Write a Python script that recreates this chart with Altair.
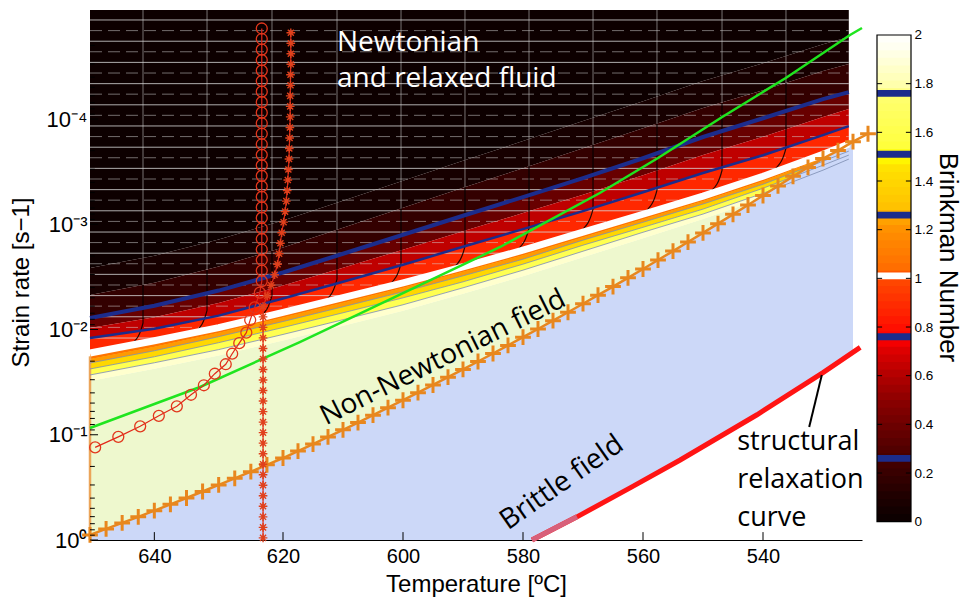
import altair as alt
import pandas as pd

# ---------------- values ----------------
# temperatures [deg C] at which the Brinkman-number level curves were read
T_FIELD = [650, 640, 630, 620, 610, 600, 590, 580, 570, 560, 550, 540, 530, 525.7]
# log10(strain rate) of Brinkman-number level curves
LOG_BR_003 = [-2.585, -2.701, -2.854, -3.036, -3.224, -3.413, -3.603, -3.790, -3.980, -4.169, -4.361, -4.530, -4.711, -4.779]
LOG_BR_010 = [-2.328, -2.444, -2.598, -2.780, -2.967, -3.157, -3.347, -3.533, -3.723, -3.912, -4.104, -4.273, -4.455, -4.522]
LOG_BR_026 = [-2.110, -2.226, -2.370, -2.542, -2.720, -2.900, -3.081, -3.258, -3.438, -3.627, -3.829, -4.007, -4.189, -4.256]
LOG_BR_050 = [-2.015, -2.116, -2.251, -2.419, -2.587, -2.758, -2.933, -3.106, -3.281, -3.466, -3.658, -3.831, -4.018, -4.095]
LOG_BR_076 = [-1.920, -2.007, -2.132, -2.295, -2.454, -2.615, -2.786, -2.954, -3.125, -3.304, -3.487, -3.656, -3.847, -3.933]
LOG_BR_100 = [-1.777, -1.893, -2.018, -2.162, -2.302, -2.444, -2.596, -2.754, -2.925, -3.095, -3.268, -3.456, -3.666, -3.762]
LOG_BR_115 = [-1.720, -1.836, -1.970, -2.114, -2.254, -2.396, -2.548, -2.706, -2.877, -3.047, -3.220, -3.408, -3.628, -3.724]
LOG_BR_130 = [-1.682, -1.798, -1.932, -2.076, -2.216, -2.358, -2.510, -2.668, -2.849, -3.019, -3.192, -3.380, -3.599, -3.695]
LOG_BR_150 = [-1.625, -1.741, -1.875, -2.019, -2.159, -2.301, -2.453, -2.621, -2.801, -2.971, -3.144, -3.342, -3.561, -3.657]
LOG_BR_175 = [-1.568, -1.684, -1.809, -1.953, -2.093, -2.235, -2.396, -2.564, -2.744, -2.924, -3.097, -3.294, -3.514, -3.619]
LOG_BR_200 = [-1.511, -1.627, -1.752, -1.896, -2.036, -2.178, -2.339, -2.507, -2.687, -2.867, -3.049, -3.247, -3.476, -3.581]
# Brinkman number represented by each colour band (top to bottom)
BAND_BR = [0.015, 0.065, 0.18, 0.38, 0.63, 0.88, 1.07, 1.22, 1.4, 1.62, 1.87]

# orange "+" curve (onset of non-Newtonian flow)
PLUS_T = [650.0, 647.5, 645.0, 642.5, 640.0, 637.5, 635.0, 632.5, 630.0, 627.5, 625.0, 622.5, 620.0,
          617.5, 615.0, 612.5, 610.0, 607.5, 605.0, 602.5, 600.0, 597.5, 595.0, 592.5, 590.0, 587.5,
          585.0, 582.5, 580.0, 577.5, 575.0, 572.5, 570.0, 567.5, 565.0, 562.5, 560.0, 557.5, 555.0,
          552.5, 550.0, 547.5, 545.0, 542.5, 540.0, 537.5, 535.0, 532.5, 530.0, 527.5, 525.0, 522.5]
PLUS_LOG = [-0.048, -0.105, -0.162, -0.220, -0.279, -0.339, -0.399, -0.461, -0.523, -0.586, -0.649, -0.714, -0.779,
            -0.845, -0.911, -0.979, -1.047, -1.116, -1.186, -1.257, -1.328, -1.400, -1.473, -1.547, -1.621, -1.696,
            -1.772, -1.849, -1.927, -2.005, -2.084, -2.164, -2.245, -2.326, -2.408, -2.491, -2.575, -2.660, -2.745,
            -2.831, -2.918, -3.006, -3.094, -3.183, -3.273, -3.364, -3.455, -3.540, -3.625, -3.700, -3.785, -3.860]

# green curve
GREEN_T = [650.0, 632.9, 617.2, 583.8, 567.2, 557.5, 546.8, 536.2, 525.5, 523.5]
GREEN_LOG = [-1.064, -1.454, -1.881, -2.784, -3.297, -3.629, -4.019, -4.390, -4.798, -4.865]

# red curve with open circles
CIRC_T = [623.3, 623.3, 623.3, 623.3, 623.3, 623.3, 623.3, 623.3, 623.3, 623.3, 623.3, 623.3, 623.3,
          623.3, 623.3, 623.3, 623.3, 623.3, 623.3, 623.3, 623.3, 623.3, 623.3, 623.3, 623.3,
          623.6, 624.4, 625.1, 625.7, 626.8, 627.9, 628.9, 630.6, 632.3, 634.3, 636.5, 639.3, 642.2, 645.6, 649.2]
CIRC_LOG = [-4.86, -4.76, -4.66, -4.56, -4.46, -4.36, -4.26, -4.16, -4.06, -3.96, -3.86, -3.76, -3.66,
            -3.56, -3.46, -3.36, -3.26, -3.16, -3.06, -2.96, -2.86, -2.76, -2.66, -2.56, -2.46,
            -2.35, -2.21, -2.09, -1.97, -1.87, -1.77, -1.67, -1.58, -1.47, -1.38, -1.27, -1.18, -1.08, -0.98, -0.88]

# red curve with asterisks
STAR_T = [618.7, 618.7, 618.7, 618.7, 618.75, 618.75, 618.8, 618.8, 618.8, 618.85, 618.9, 618.95, 619.0,
          619.1, 619.2, 619.3, 619.45, 619.65, 619.9, 620.2, 620.4, 620.6, 620.85, 621.3, 621.85, 622.45, 623.1,
          623.1, 623.1, 623.1, 623.1, 623.1, 623.1, 623.1, 623.1, 623.1, 623.1, 623.1,
          623.1, 623.1, 623.1, 623.1, 623.1, 623.1, 623.1, 623.1, 623.1, 623.1, 623.1]
STAR_LOG = [-4.82, -4.72, -4.62, -4.52, -4.42, -4.32, -4.22, -4.12, -4.02, -3.92, -3.82, -3.72, -3.62,
            -3.52, -3.42, -3.32, -3.22, -3.12, -3.02, -2.92, -2.82, -2.72, -2.62, -2.52, -2.42, -2.32, -2.22,
            -2.12, -2.02, -1.92, -1.82, -1.72, -1.62, -1.52, -1.42, -1.32, -1.22, -1.12,
            -1.02, -0.92, -0.82, -0.72, -0.62, -0.52, -0.42, -0.32, -0.22, -0.12, -0.02]

# structural relaxation curve
RELAX_T = [578.5, 571.0, 562.0, 553.8, 541.0, 530.0, 523.8]
RELAX_LOG = [0.0, -0.22, -0.50, -0.76, -1.19, -1.59, -1.83]

# surface mesh: solid lines of constant strain rate (log10) and where they meet the Br = 1 curve
HMESH_LOG = [-4.941, -4.739, -4.538, -4.336, -4.135, -3.934, -3.732, -3.531, -3.329, -3.128,
             -2.926, -2.725, -2.524, -2.322, -2.121, -1.919]
HMESH_TEND = [525.7, 525.7, 525.7, 525.7, 525.7, 525.7, 527.0, 536.3, 546.4, 558.1,
              570.0, 581.7, 594.75, 608.6, 622.9, 637.9]
# surface mesh: dashed lines in between
DMESH_LOG = [-4.840, -4.639, -4.437, -4.236, -4.035, -3.833, -3.632, -3.430, -3.229, -3.027,
             -2.826, -2.625, -2.423, -2.222, -2.020]
DMESH_TEND = [525.7, 525.7, 525.7, 525.7, 525.7, 525.7, 531.6, 541.4, 552.3, 564.0,
              575.8, 588.2, 601.5, 615.7, 629.9]
# surface mesh: lines of constant temperature
VMESH_T = [641.76, 631.81, 621.71, 611.0, 600.33, 589.67, 579.0, 568.33, 557.67, 546.83, 536.17]
VMESH_TBEND = [643.32, 633.37, 623.26, 612.67, 602.0, 591.33, 580.67, 570.0, 559.33, 548.5, 537.83]
VMESH_LOG_DARK = [-2.423, -2.565, -2.748, -2.948, -3.151, -3.352, -3.553, -3.755, -3.957, -4.153, -4.341]
VMESH_LOG_BEND = [-2.062, -2.181, -2.327, -2.478, -2.629, -2.790, -2.962, -3.144, -3.325, -3.513, -3.724]
VMESH_LOG_END = [-1.872, -1.991, -2.137, -2.288, -2.439, -2.600, -2.772, -2.954, -3.135, -3.323, -3.534]

# orange edge of the surface along the left border
EDGE_T = [650.0, 650.0]
EDGE_LOG = [-1.745, 0.0]

# annotations
NEWT_TEXT = ["Newtonian", "and relaxed fluid"]
NEWT_T = [611.0, 611.0]
NEWT_LOG = [-4.722, -4.380]
NONNEWT_TEXT = ["Non-Newtonian field"]
NONNEWT_T = [593.3]
NONNEWT_LOG = [-1.729]
BRITTLE_TEXT = ["Brittle field"]
BRITTLE_T = [573.5]
BRITTLE_LOG = [-0.542]
SR_TEXT = ["structural", "relaxation", "curve"]
SR_T = [544.3, 544.3, 544.3]
SR_LOG = [-0.931, -0.570, -0.209]
POINTER_T = [530.2, 532.3]
POINTER_LOG = [-1.568, -1.074]

# axes
X_TICKS = [640, 620, 600, 580, 560, 540]
Y_TICKS = [1e-4, 1e-3, 1e-2, 1e-1, 1]
CB_TICKS = [0, 0.2, 0.4, 0.6, 0.8, 1, 1.2, 1.4, 1.6, 1.8, 2]
CB_BLUE_LEVELS = [0.26, 0.76, 1.26, 1.51, 1.76]
CB_WHITE_LEVELS = [1.01]

# colormap of the Brinkman number
CMAP_LEVELS = [0.0, 0.1, 0.2, 0.3, 0.4, 0.5, 0.6, 0.7, 0.75, 0.85, 1.0, 1.05, 1.2, 1.25, 1.3, 1.45,
               1.5, 1.55, 1.75, 1.8, 1.95, 2.0]
CMAP_COLORS = ['#0a0000', '#1e0000', '#380000', '#520000', '#6e0000', '#8c0000', '#b20000', '#dc0000',
               '#ff0000', '#ff2000', '#ff4a00', '#ff7000', '#ff9000', '#ffa800', '#ffc400', '#ffe000',
               '#ffff00', '#ffff40', '#ffff70', '#ffffb0', '#fffff0', '#ffffff']

# ---------------- scales / styles ----------------
Y_MIN, Y_MAX = 9.21e-6, 1.0
FONT = "Liberation Sans"
ANN_FONT = "Open Sans"
PALE = "#eef8ce"
BRITTLE_BLUE = "#ccd8f8"
CONTOUR_BLUE = "#1c2c8c"
ORANGE = "#e8871e"
W, H = 772, 530

XS = alt.Scale(domain=[650, 620, 523.5], range=[0, 193, W], zero=False, nice=False)
YS = alt.Scale(type="log", domain=[Y_MIN, Y_MAX], reverse=True, nice=False)
CS = alt.Scale(domain=CMAP_LEVELS, range=CMAP_COLORS, interpolate="rgb")

XAX = alt.Axis(values=X_TICKS, title="Temperature  [ºC]", ticks=False, grid=False, labelFontSize=20,
               labelPadding=6, titleFontSize=24, titleFontWeight="normal", titleY=51,
               titleBaseline="alphabetic", domainColor="black", labelColor="black", orient="bottom")
Y_LABEL_EXPR = ("datum.value > 0.5 ? '10⁰' : datum.value > 0.05 ? '10⁻¹' : datum.value > 0.005 ? '10⁻²' : "
                "datum.value > 0.0005 ? '10⁻³' : '10⁻⁴'")
YAX = alt.Axis(values=Y_TICKS, labelExpr=Y_LABEL_EXPR, title="Strain rate [s−1]", ticks=False, grid=False,
               labelFontSize=22, labelPadding=3, titleFontSize=24, titleFontWeight="normal",
               titleX=-57, titleY=272, titleAngle=270, titleAlign="center", titleBaseline="bottom",
               domainColor="black", labelColor="black", orient="left")


def X(f="T"):
    return alt.X(f + ":Q", scale=XS, axis=XAX)


def Y(f="r"):
    return alt.Y(f + ":Q", scale=YS, axis=YAX, stack=None)


# ---------------- tables ----------------
bounds = [None, LOG_BR_003, LOG_BR_010, LOG_BR_026, LOG_BR_050, LOG_BR_076, LOG_BR_100,
          LOG_BR_115, LOG_BR_130, LOG_BR_150, LOG_BR_175, LOG_BR_200]
rows = []
for i, br in enumerate(BAND_BR):
    for j, t in enumerate(T_FIELD):
        top = Y_MIN if bounds[i] is None else 10 ** bounds[i][j]
        rows.append({"band": i, "T": t, "r": top, "r2": 10 ** bounds[i + 1][j], "br": br})
bands_df = pd.DataFrame(rows)

pale_df = pd.DataFrame({"T": T_FIELD, "r": [10 ** v for v in LOG_BR_200], "r2": [1.0] * len(T_FIELD)})

brittle_df = pd.DataFrame({"T": [t for t in PLUS_T if t >= 525],
                           "r": [10 ** v for t, v in zip(PLUS_T, PLUS_LOG) if t >= 525]})
brittle_df["r2"] = 1.0

relax_df = pd.DataFrame({"T": RELAX_T, "r": [10 ** v for v in RELAX_LOG], "i": range(len(RELAX_T))})
relax_fill = relax_df.assign(r2=1.0)


def curve_df(ts, logs, key=0):
    return pd.DataFrame({"T": ts, "r": [10 ** v for v in logs], "i": range(len(ts)), "id": key})


def level_df(levels_dict):
    frames = [curve_df(T_FIELD, logs, key) for key, logs in levels_dict.items()]
    return pd.concat(frames, ignore_index=True)


def hlines_df(logs, tends):
    out = []
    for k, (lg, te) in enumerate(zip(logs, tends)):
        out.append({"id": k, "i": 0, "T": 650.0, "r": 10 ** lg})
        out.append({"id": k, "i": 1, "T": te, "r": 10 ** lg})
    return pd.DataFrame(out)


hmesh_df = hlines_df(HMESH_LOG, HMESH_TEND)
dmesh_df = hlines_df(DMESH_LOG, DMESH_TEND)

vg_rows, vb_rows = [], []
for k in range(len(VMESH_T)):
    vg_rows.append({"id": k, "i": 0, "T": VMESH_T[k], "r": Y_MIN})
    vg_rows.append({"id": k, "i": 1, "T": VMESH_T[k], "r": 10 ** VMESH_LOG_DARK[k]})
    vb_rows.append({"id": k, "i": 0, "T": VMESH_T[k], "r": 10 ** VMESH_LOG_DARK[k]})
    vb_rows.append({"id": k, "i": 1, "T": VMESH_T[k], "r": 10 ** VMESH_LOG_BEND[k]})
    vb_rows.append({"id": k, "i": 2, "T": VMESH_TBEND[k], "r": 10 ** VMESH_LOG_END[k]})
vgrey_df = pd.DataFrame(vg_rows)
vblack_df = pd.DataFrame(vb_rows)

plus_df = curve_df(PLUS_T, PLUS_LOG)
green_df = curve_df(GREEN_T, GREEN_LOG)
circ_df = curve_df(CIRC_T, CIRC_LOG)
star_df = curve_df(STAR_T, STAR_LOG)
pointer_df = curve_df(POINTER_T, POINTER_LOG)
edge_df = curve_df(EDGE_T, EDGE_LOG)


def text_df(texts, ts, logs):
    return pd.DataFrame({"label": texts, "T": ts, "r": [10 ** v for v in logs]})


# inward axis ticks (lengths expressed in data units)
X_TICK_LEN = 0.075   # decades
Y_TICK_LEN = 1.25    # deg C
Y_MINOR_LEN = 0.75
xt_df = pd.DataFrame({"T": X_TICKS, "r": 1.0, "r2": 10 ** (-X_TICK_LEN)})
yt_df = pd.DataFrame({"T": 650.0, "T2": 650.0 - Y_TICK_LEN, "r": Y_TICKS})
minor = [m * 10 ** k for k in range(-5, 0) for m in range(2, 10) if m * 10 ** k >= Y_MIN]
ym_df = pd.DataFrame({"T": 650.0, "T2": 650.0 - Y_MINOR_LEN, "r": minor})

# ---------------- main layers ----------------
PLUS_PATH = "M-1,0L1,0M0,-1L0,1"
STAR_PATH = "M-1,0L1,0M0,-1L0,1M-0.7,-0.7L0.7,0.7M-0.7,0.7L0.7,-0.7"

layers = []
layers.append(alt.Chart(bands_df).mark_area(opacity=1).encode(
    x=X(), y=Y(), y2="r2:Q", detail="band:N",
    color=alt.Color("br:Q", scale=CS, legend=None)))
layers.append(alt.Chart(pale_df).mark_area(color=PALE).encode(x=X(), y=Y(), y2="r2:Q"))
layers.append(alt.Chart(bands_df[bands_df.band >= 6]).mark_area().encode(
    x=X(), y=Y(), y2="r2:Q", detail="band:N",
    color=alt.Color("br:Q", scale=CS, legend=None)))
layers.append(alt.Chart(brittle_df).mark_area(color=BRITTLE_BLUE).encode(x=X(), y=Y(), y2="r2:Q"))
layers.append(alt.Chart(relax_fill).mark_area(color="white").encode(x=X(), y=Y(), y2="r2:Q"))

# surface mesh
layers.append(alt.Chart(hmesh_df).mark_line(color="#d8d8d8", strokeWidth=1, opacity=0.8).encode(
    x=X(), y=Y(), detail="id:N", order="i:Q"))
layers.append(alt.Chart(dmesh_df).mark_line(color="#d8d8d8", strokeWidth=1, opacity=0.5,
                                            strokeDash=[12, 6]).encode(
    x=X(), y=Y(), detail="id:N", order="i:Q"))
layers.append(alt.Chart(vgrey_df).mark_line(color="#d0d0d0", strokeWidth=1, opacity=0.55).encode(
    x=X(), y=Y(), detail="id:N", order="i:Q"))
layers.append(alt.Chart(vblack_df).mark_line(color="black", strokeWidth=1.2, opacity=0.85,
                                             interpolate="monotone").encode(
    x=X(), y=Y(), detail="id:N", order="i:Q"))
layers.append(alt.Chart(edge_df).mark_line(color="#eba55a", strokeWidth=2.5).encode(
    x=X(), y=Y(), order="i:Q"))

# Brinkman contours
layers.append(alt.Chart(level_df({13: LOG_BR_130, 15: LOG_BR_150, 17: LOG_BR_175})).mark_line(
    color="#7c8cb0", strokeWidth=1, opacity=0.8).encode(x=X(), y=Y(), detail="id:N", order="i:Q"))
layers.append(alt.Chart(curve_df(T_FIELD, LOG_BR_026)).mark_line(
    color=CONTOUR_BLUE, strokeWidth=4).encode(x=X(), y=Y(), order="i:Q"))
layers.append(alt.Chart(curve_df(T_FIELD, LOG_BR_076)).mark_line(
    color=CONTOUR_BLUE, strokeWidth=2.5).encode(x=X(), y=Y(), order="i:Q"))
layers.append(alt.Chart(curve_df(T_FIELD, LOG_BR_100)).mark_line(
    color="white", strokeWidth=7).encode(x=X(), y=Y(), order="i:Q"))

# curves
layers.append(alt.Chart(green_df).mark_line(color="#1fe51f", strokeWidth=2.5).encode(
    x=X(), y=Y(), order="i:Q"))
layers.append(alt.Chart(plus_df).mark_line(color=ORANGE, strokeWidth=2.5).encode(
    x=X(), y=Y(), order="i:Q"))
layers.append(alt.Chart(plus_df).mark_point(shape=PLUS_PATH, size=250, filled=False, color=ORANGE,
                                            strokeWidth=3, opacity=1).encode(x=X(), y=Y()))
layers.append(alt.Chart(circ_df).mark_line(color="#e2281a", strokeWidth=1.2).encode(
    x=X(), y=Y(), order="i:Q"))
layers.append(alt.Chart(circ_df).mark_point(shape="circle", size=120, filled=False, color="#e2361c",
                                            strokeWidth=1.3, opacity=1).encode(x=X(), y=Y()))
layers.append(alt.Chart(star_df).mark_line(color="#e2281a", strokeWidth=1.2).encode(
    x=X(), y=Y(), order="i:Q"))
layers.append(alt.Chart(star_df).mark_point(shape=STAR_PATH, size=75, filled=False, color="#e0401c",
                                            strokeWidth=1.4, opacity=1).encode(x=X(), y=Y()))
layers.append(alt.Chart(relax_df).mark_line(color="#ff1414", strokeWidth=5).encode(
    x=X(), y=Y(), order="i:Q"))
layers.append(alt.Chart(relax_df[relax_df.i <= 1]).mark_line(color="#d8607a", strokeWidth=5).encode(
    x=X(), y=Y(), order="i:Q"))
layers.append(alt.Chart(pointer_df).mark_line(color="black", strokeWidth=2).encode(
    x=X(), y=Y(), order="i:Q"))

# annotations
layers.append(alt.Chart(text_df(NEWT_TEXT, NEWT_T, NEWT_LOG)).mark_text(
    align="left", baseline="middle", font=ANN_FONT, fontSize=28, color="white").encode(
    x=X(), y=Y(), text="label:N"))
layers.append(alt.Chart(text_df(NONNEWT_TEXT, NONNEWT_T, NONNEWT_LOG)).mark_text(
    align="center", baseline="middle", font=ANN_FONT, fontSize=28, color="black", angle=333.5).encode(
    x=X(), y=Y(), text="label:N"))
layers.append(alt.Chart(text_df(BRITTLE_TEXT, BRITTLE_T, BRITTLE_LOG)).mark_text(
    align="center", baseline="middle", font=ANN_FONT, fontSize=28, color="black", angle=325).encode(
    x=X(), y=Y(), text="label:N"))
layers.append(alt.Chart(text_df(SR_TEXT, SR_T, SR_LOG)).mark_text(
    align="left", baseline="middle", font=ANN_FONT, fontSize=27, color="black").encode(
    x=X(), y=Y(), text="label:N"))

# inward ticks
layers.append(alt.Chart(xt_df).mark_rule(color="black", strokeWidth=1).encode(
    x=X(), y=Y(), y2="r2:Q"))
layers.append(alt.Chart(yt_df).mark_rule(color="black", strokeWidth=1).encode(
    x=X(), x2="T2:Q", y=Y()))
layers.append(alt.Chart(ym_df).mark_rule(color="black", strokeWidth=1).encode(
    x=X(), x2="T2:Q", y=Y()))

main = alt.layer(*layers)

# ---------------- colour bar (placed right of the plot) ----------------
N_CB = 64
CB_OVERLAP = 0.006
cb_rows = []
for i in range(N_CB):
    lo, hi = 2.0 * i / N_CB, 2.0 * (i + 1) / N_CB
    cb_rows.append({"lo": lo, "hi": min(hi + CB_OVERLAP, 2.0), "mid": (lo + hi) / 2, "x0": 0, "x1": 1})
cb_df = pd.DataFrame(cb_rows)
BAND_HALF = 0.014
cb_blue = pd.DataFrame({"lo": [v - BAND_HALF for v in CB_BLUE_LEVELS],
                        "hi": [v + BAND_HALF for v in CB_BLUE_LEVELS], "x0": 0, "x1": 1})
cb_white = pd.DataFrame({"lo": [v - BAND_HALF for v in CB_WHITE_LEVELS],
                         "hi": [v + BAND_HALF for v in CB_WHITE_LEVELS], "x0": 0, "x1": 1})
cb_frame = pd.DataFrame({"lo": [0], "hi": [2], "x0": [0], "x1": [1]})
CB_TICK = 0.15
cb_ticks = pd.DataFrame(
    [{"v": v, "x0": 0, "x1": CB_TICK} for v in CB_TICKS[1:-1]] +
    [{"v": v, "x0": 1 - CB_TICK, "x1": 1} for v in CB_TICKS[1:-1]])

CB_LEFT, CB_RIGHT = 787, 821          # colour-bar edges in the view
CBS = alt.Scale(domain=[-0.0752, 2.1027], nice=False, zero=False)
CBX = alt.Scale(domain=[0, 1], range=[CB_LEFT, CB_RIGHT], nice=False, zero=False)
CBAX = alt.Axis(orient="right", offset=CB_RIGHT - W, values=CB_TICKS, format=".1~f", ticks=False,
                domain=False, grid=False, labelPadding=3, labelFontSize=13.5, labelColor="black",
                labelFont=FONT, title="Brinkman Number", titleFont=FONT,
                titleFontSize=26, titleFontWeight="normal", titleAngle=90, titleX=23, titleY=247,
                titleAlign="center", titleBaseline="bottom", titleColor="black")


def CBY(f):
    return alt.Y(f + ":Q", scale=CBS, axis=CBAX)


def CBXE():
    return alt.X("x0:Q", scale=CBX, axis=None)


cbar = alt.layer(
    alt.Chart(cb_df).mark_rect().encode(x=CBXE(), x2="x1:Q", y=CBY("lo"), y2="hi:Q",
                                        color=alt.Color("mid:Q", scale=CS, legend=None)),
    alt.Chart(cb_blue).mark_rect(color=CONTOUR_BLUE).encode(x=CBXE(), x2="x1:Q", y=CBY("lo"), y2="hi:Q"),
    alt.Chart(cb_white).mark_rect(color="white").encode(x=CBXE(), x2="x1:Q", y=CBY("lo"), y2="hi:Q"),
    alt.Chart(cb_ticks).mark_rule(color="black", strokeWidth=1).encode(x=CBXE(), x2="x1:Q", y=CBY("v")),
    alt.Chart(cb_frame).mark_rect(fill=None, stroke="black", strokeWidth=1.2).encode(
        x=CBXE(), x2="x1:Q", y=CBY("lo"), y2="hi:Q"),
)

chart = alt.layer(main, cbar).resolve_scale(x="independent", y="independent").properties(
    width=W, height=H,
    autosize=alt.AutoSizeParams(type="none"),
    padding={"left": 82, "top": 2, "right": 103, "bottom": 57},
).configure_view(stroke=None).configure_axis(labelFont=FONT, titleFont=FONT)

chart.save("out.html", embed_options={"renderer": "svg", "actions": False})
